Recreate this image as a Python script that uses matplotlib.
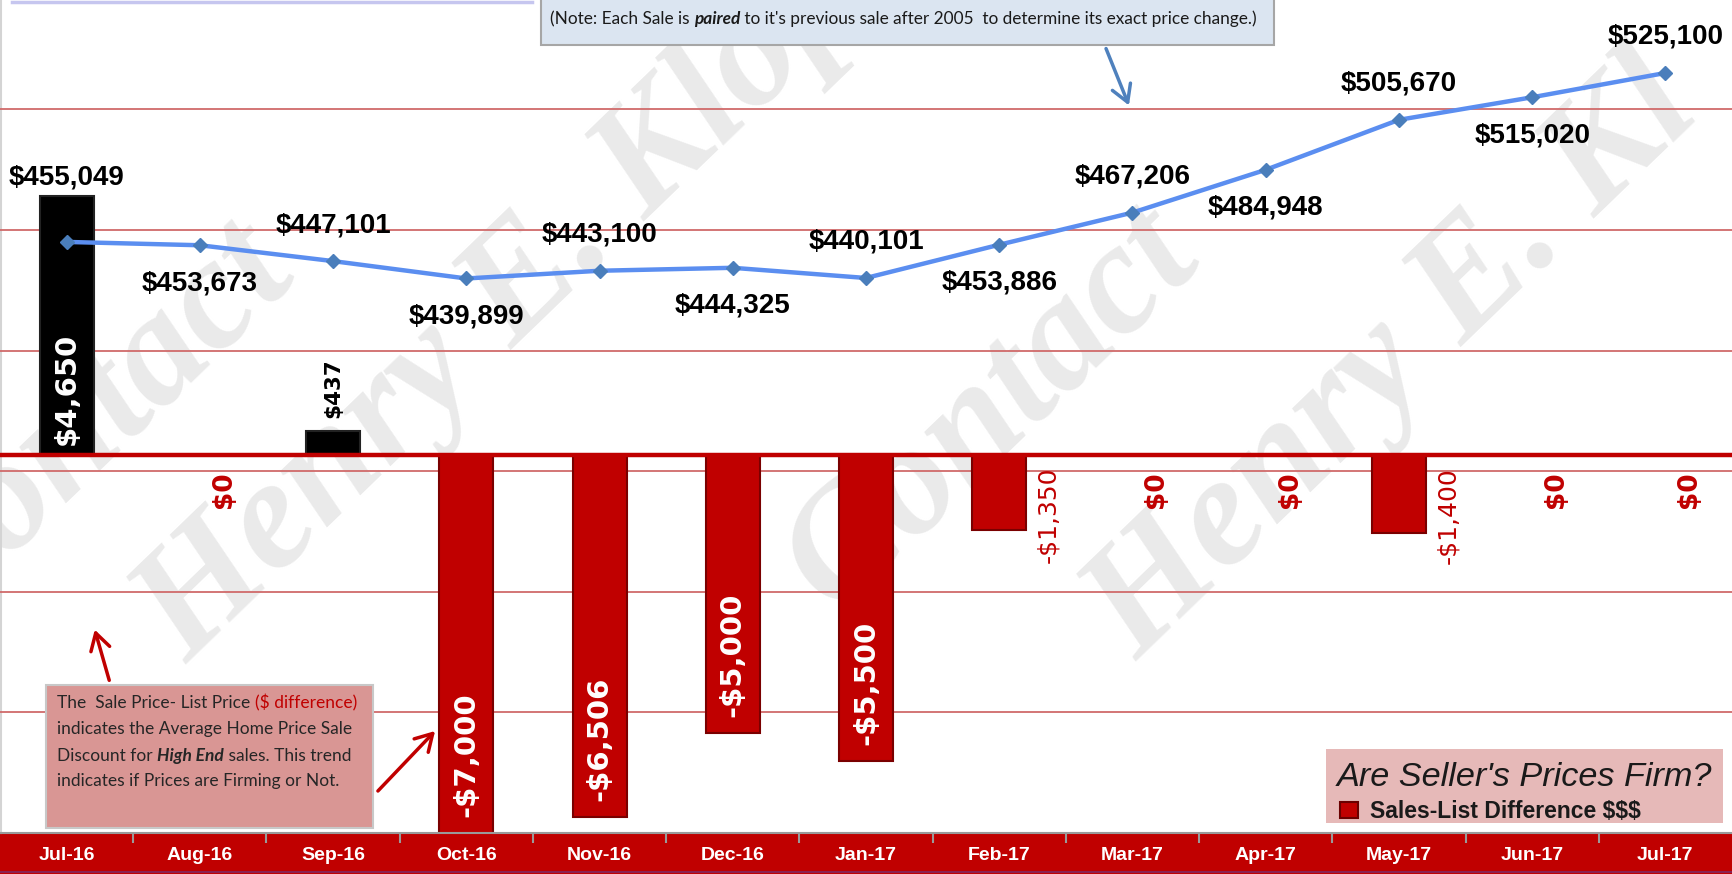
import numpy as np
import matplotlib
matplotlib.use("Agg")
import matplotlib.pyplot as plt
import matplotlib.transforms as mtransforms
from matplotlib.patches import Rectangle, FancyArrowPatch
from matplotlib.lines import Line2D

W, H = 1732, 874

months = ["Jul-16", "Aug-16", "Sep-16", "Oct-16", "Nov-16", "Dec-16", "Jan-17",
          "Feb-17", "Mar-17", "Apr-17", "May-17", "Jun-17", "Jul-17"]
avg_price = [455049, 453673, 447101, 439899, 443100, 444325, 440101,
             453886, 467206, 484948, 505670, 515020, 525100]
sale_list_diff = [4650, 0, 437, -7000, -6506, -5000, -5500, -1350, 0, 0, -1400, 0, 0]
price_grid = [260000, 310000, 360000, 410000, 460000, 510000]

RED = "#c00000"
SANS = "Liberation Sans"
NOTE_FONT = "Lato"

fig = plt.figure(figsize=(W / 100, H / 100), dpi=100)
fig.patch.set_facecolor("white")
# pixel coords, origin top-left
px = mtransforms.Affine2D().scale(1 / W, -1 / H).translate(0, 1) + fig.transFigure

ax = fig.add_axes([0, 41 / H, 1, 833 / H])
ax.patch.set_alpha(0)
ax2 = ax.twinx()

ax.set_xlim(-0.5, 12.5)
ax.set_ylim(-6800, 8183)
ax2.set_ylim(210000, 555350)

x = np.arange(len(months))

# gridlines follow the price axis, but sit behind the bars
grid_tr = mtransforms.blended_transform_factory(ax.transAxes, ax2.transData)
for g in price_grid:
    ax.plot([0, 1], [g, g], transform=grid_tr, color="#d06a6a", lw=1.3, zorder=0.5)

# sales - list difference bars
bar_w = 0.405
colors = ["black" if v > 0 else RED for v in sale_list_diff]
edges = ["#222222" if v > 0 else "#7a0000" for v in sale_list_diff]
ax.bar(x, sale_list_diff, width=bar_w, color=colors, edgecolor=edges, linewidth=1.5, zorder=2)
ax.axhline(0, color=RED, lw=3.2, zorder=3)

ymin = ax.get_ylim()[0]
lab_kw = dict(textcoords="offset pixels", rotation=90, ha="center", family="DejaVu Sans", zorder=4)
for i, v in enumerate(sale_list_diff):
    lab = f"-${abs(v):,}" if v < 0 else f"${v:,}"
    if v > 2000:
        ax.annotate(lab, (i, 0), xytext=(0, 10), va="bottom", color="white",
                    fontsize=21, fontweight="bold", **lab_kw)
    elif v > 0:
        ax.annotate(lab, (i, v), xytext=(0, 13), va="bottom", color="black",
                    fontsize=15.5, fontweight="bold", **lab_kw)
    elif v < -2000:
        ax.annotate(lab, (i, max(v, ymin)), xytext=(0, 16), va="bottom", color="white",
                    fontsize=21, fontweight="bold", **lab_kw)
    elif v < 0:
        ax.annotate(lab, (i, 0), xytext=(49, -12), va="top", color=RED,
                    fontsize=18, **lab_kw)
    else:
        ax.annotate(lab, (i, 0), xytext=(24, -16), va="top", color=RED,
                    fontsize=19, fontweight="bold", **lab_kw)

# average price line
ax2.plot(x, avg_price, color="#5b8ef0", lw=3.2, marker="D", markersize=7,
         markerfacecolor="#4a7ebb", markeredgecolor="#4a7ebb", zorder=5)
for i, v in enumerate(avg_price):
    dy = 36 if i % 2 == 0 else -38
    if i == 0:
        dy = 64
    ax2.annotate(f"${v:,}", (i, v), xytext=(0, dy), textcoords="offset pixels",
                 ha="center", va="center", fontsize=20, fontweight="bold",
                 family=SANS, color="black", zorder=6)

# axes cosmetics
for a in (ax, ax2):
    a.set_yticks([])
    for s in ("top", "right", "left"):
        a.spines[s].set_visible(False)
ax2.spines["bottom"].set_visible(False)
ax.spines["bottom"].set_color("#9a9a9a")
ax.spines["bottom"].set_linewidth(1.5)
ax.set_xticks(x)
ax.set_xticklabels(months, color="white", fontsize=14, fontweight="bold", family=SANS)
ax.tick_params(axis="x", which="major", length=0, pad=10)
ax.set_xticks(np.arange(0.5, 12, 1), minor=True)
ax.tick_params(axis="x", which="minor", length=7, width=1.5, color="#9a9a9a")
ax.tick_params(axis="y", which="both", length=0)
ax2.tick_params(axis="y", which="both", length=0)

# red category band, light left border, top-left box edge
fig.add_artist(Rectangle((0, 833), W, 41, transform=px, facecolor=RED, edgecolor="none", zorder=-0.5))
fig.add_artist(Line2D([0, W], [871.5, 871.5], transform=px, color="#8b2252", lw=1.5, zorder=-0.4))
fig.add_artist(Line2D([1, 1], [0, 833], transform=px, color="#d4d4d4", lw=1.5, zorder=-0.4))
fig.add_artist(Line2D([12, 532], [2, 2], transform=px, color="#c6c6ef", lw=2.5, zorder=1))

# watermark (only the part that shows inside the picture)
wm_kw = dict(transform=px, rotation=44, rotation_mode="anchor", ha="left", va="baseline",
             fontsize=114, family="Liberation Serif", fontweight="bold", style="italic",
             color="#eaeaea", zorder=-1)
fig.text(-70, 630, "Contact", **wm_kw)
fig.text(187, 665, "Henry E. Klop", **wm_kw)
fig.text(835, 615, "Contact", **wm_kw)
fig.text(1137, 662, "Henry E. Kl", **wm_kw)

renderer = fig.canvas.get_renderer()


def rich_line(x0, y0, parts, size, family, color, va="center"):
    cur = x0
    for s, kw in parts:
        style = dict(fontsize=size, family=family)
        style.update({k: v for k, v in kw.items() if k != "color"})
        fig.text(cur, y0, s, transform=px, ha="left", va=va, zorder=7,
                 color=kw.get("color", color), **style)
        probe = fig.text(0, 0, s + "|", **style)
        bar = fig.text(0, 0, "|", **style)
        cur += probe.get_window_extent(renderer).width - bar.get_window_extent(renderer).width
        probe.remove()
        bar.remove()


# note box at top
fig.add_artist(Rectangle((541, -5), 733, 50, transform=px, facecolor="#dbe5f1",
                         edgecolor="#a6a6a6", lw=1.5, zorder=6))
rich_line(550, 19, [("(Note: Each Sale is ", {}),
                    ("paired", {"weight": "bold", "style": "italic"}),
                    (" to it's previous sale after 2005  to determine its exact price change.)", {})],
          12.4, NOTE_FONT, "#1a1a1a")
fig.add_artist(FancyArrowPatch((1105, 46), (1130, 108), transform=px,
                               arrowstyle="->,head_length=0.6,head_width=0.35",
                               mutation_scale=20, color="#4f81bd", lw=2.5, zorder=6))

# explanation box, bottom left
fig.add_artist(Rectangle((46, 685), 327, 143, transform=px, facecolor="#d99694",
                         edgecolor="#c8c8c8", lw=1.5, zorder=6))
rich_line(57, 703, [("The  Sale Price- List Price ", {}), ("($ difference)", {"color": RED})],
          12.5, NOTE_FONT, "#262626")
rich_line(57, 729, [("indicates the Average Home Price Sale", {})], 12.5, NOTE_FONT, "#262626")
rich_line(57, 756, [("Discount for ", {}), ("High End", {"weight": "bold", "style": "italic"}),
                    (" sales. This trend", {})], 12.5, NOTE_FONT, "#262626")
rich_line(57, 781, [("indicates if Prices are Firming or Not.", {})], 12.5, NOTE_FONT, "#262626")
for a, b in (((110, 683), (94, 627)), ((376, 793), (437, 729))):
    fig.add_artist(FancyArrowPatch(a, b, transform=px,
                                   arrowstyle="->,head_length=0.6,head_width=0.35",
                                   mutation_scale=20, color=RED, lw=2.5, zorder=6))

# legend box
fig.add_artist(Rectangle((1326, 749), 397, 74, transform=px, facecolor="#e6b9b8",
                         edgecolor="none", zorder=6))
fig.text(1337, 786, "Are Seller's Prices Firm?", transform=px, ha="left", va="baseline",
         fontsize=24.7, style="italic", family=SANS, color="#1a1a1a", zorder=7)
fig.add_artist(Rectangle((1340, 802), 18, 16, transform=px, facecolor=RED,
                         edgecolor="#6a0000", lw=1.5, zorder=7))
fig.text(1370, 818, "Sales-List Difference $$$", transform=px, ha="left", va="baseline",
         fontsize=16.5, fontweight="bold", family=SANS, color="#1a1a1a", zorder=7)

fig.savefig("out.png", dpi=100, facecolor="white")
